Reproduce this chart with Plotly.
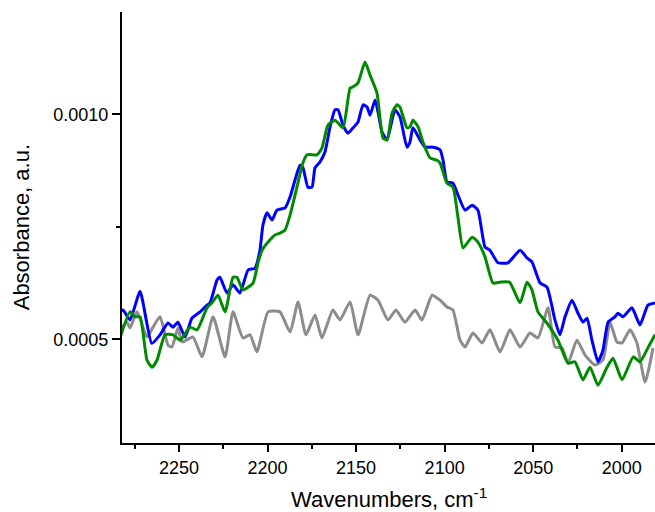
import plotly.graph_objects as go

# ---- data (wavenumber in cm-1, absorbance in a.u.) ----
blue_x = [2283.3, 2281.6, 2277.7, 2272.0, 2265.4, 2260.7, 2256.2, 2253.4, 2250.6, 2246.6,
          2242.7, 2238.1, 2234.2, 2232.5, 2228.5, 2226.9, 2222.9, 2219.5, 2215.6, 2211.0,
          2207.1, 2204.3, 2202.6, 2200.3, 2197.5, 2194.7, 2190.1, 2187.3, 2184.5, 2181.7,
          2180.0, 2177.2, 2174.9, 2173.2, 2170.4, 2167.6, 2164.7, 2161.9, 2160.2, 2157.4,
          2154.6, 2151.7, 2148.9, 2146.1, 2143.8, 2142.1, 2139.3, 2137.6, 2135.4, 2132.5,
          2129.7, 2128.0, 2125.2, 2121.3, 2119.6, 2117.9, 2113.9, 2111.1, 2106.6, 2102.6,
          2100.9, 2098.7, 2095.3, 2092.5, 2088.5, 2084.5, 2081.2, 2077.2, 2074.4, 2069.9,
          2064.2, 2057.4, 2053.5, 2050.7, 2046.1, 2042.2, 2037.7, 2034.9, 2032.0, 2028.1,
          2024.7, 2021.9, 2019.6, 2016.8, 2013.4, 2010.6, 2007.7, 2003.8, 2002.1, 1999.3,
          1994.2, 1989.7, 1985.2, 1981.2]
blue_y = [5.61, 5.65, 5.43, 6.06, 4.91, 5.10, 5.36, 5.27, 5.38, 5.05,
          5.47, 5.61, 5.76, 5.81, 6.32, 6.38, 6.03, 6.21, 6.03, 6.54,
          6.58, 6.98, 7.54, 7.81, 7.65, 7.87, 7.92, 8.16, 8.54, 8.87,
          8.81, 8.38, 8.38, 8.81, 8.94, 9.16, 9.72, 10.10, 10.10, 9.76,
          9.58, 9.70, 9.83, 10.21, 10.16, 9.98, 10.32, 10.05, 9.61, 9.43,
          9.87, 10.10, 9.94, 9.27, 9.38, 9.70, 9.43, 9.27, 9.27, 9.21,
          8.98, 8.50, 8.47, 8.21, 7.87, 7.98, 7.87, 7.05, 6.98, 6.70,
          6.70, 6.98, 6.81, 6.72, 6.25, 6.16, 5.43, 5.10, 5.50, 5.87,
          5.58, 5.38, 5.47, 4.98, 4.50, 4.76, 5.38, 5.50, 5.58, 5.50,
          5.70, 5.32, 5.76, 5.81]

green_x = [2283.3, 2277.7, 2274.9, 2272.0, 2268.1, 2265.2, 2262.4, 2257.9, 2253.4, 2249.4,
           2243.8, 2239.8, 2234.2, 2231.4, 2228.0, 2224.0, 2219.5, 2217.3, 2213.9, 2208.2,
           2205.4, 2203.1, 2198.6, 2195.8, 2193.0, 2190.1, 2187.3, 2183.4, 2180.5, 2177.7,
           2172.1, 2169.3, 2165.9, 2161.9, 2157.4, 2153.4, 2151.7, 2148.9, 2145.0, 2142.1,
           2138.2, 2134.8, 2132.5, 2129.7, 2126.9, 2125.2, 2121.3, 2119.6, 2117.9, 2115.0,
           2112.2, 2108.3, 2104.3, 2102.6, 2098.7, 2095.3, 2092.5, 2089.6, 2084.5, 2081.2,
           2077.2, 2072.7, 2068.7, 2063.3, 2057.4, 2053.5, 2050.7, 2047.3, 2042.2, 2036.0,
           2030.3, 2026.4, 2021.9, 2017.9, 2013.4, 2008.3, 2004.9, 1999.8, 1993.5, 1989.7,
           1985.2, 1981.2]
green_y = [5.03, 5.61, 5.50, 5.50, 4.54, 4.38, 4.54, 5.10, 5.10, 4.98,
           5.27, 5.21, 5.70, 5.81, 5.98, 5.61, 6.38, 6.38, 6.10, 6.25,
           6.70, 6.98, 7.21, 7.32, 7.36, 7.43, 7.76, 8.38, 8.87, 9.10,
           9.10, 9.25, 9.76, 9.87, 9.70, 10.58, 10.61, 10.70, 11.16, 10.87,
           10.47, 9.47, 9.43, 10.03, 10.21, 10.16, 9.70, 9.72, 9.87, 9.72,
           9.38, 9.03, 8.98, 8.92, 8.47, 8.38, 7.72, 7.03, 7.27, 7.16,
           6.83, 6.25, 6.27, 6.27, 5.81, 6.27, 6.10, 5.61, 5.36, 4.98,
           4.47, 4.50, 4.10, 4.38, 3.98, 4.38, 4.58, 4.10, 4.61, 4.50,
           4.81, 5.10]

gray_x = [2283.3, 2279.4, 2277.7, 2273.7, 2268.1, 2264.7, 2260.7, 2256.2, 2254.0, 2250.6,
          2248.3, 2242.1, 2237.0, 2230.8, 2224.0, 2219.5, 2213.9, 2209.9, 2206.0, 2199.7,
          2193.0, 2187.3, 2182.8, 2178.3, 2173.2, 2169.3, 2163.1, 2159.1, 2153.4, 2148.9,
          2142.1, 2137.6, 2132.0, 2127.5, 2122.4, 2116.7, 2112.8, 2107.1, 2102.6, 2098.7,
          2095.3, 2091.3, 2088.5, 2084.0, 2078.9, 2074.4, 2068.7, 2063.1, 2057.4, 2051.8,
          2047.3, 2041.6, 2037.7, 2033.7, 2030.3, 2025.3, 2020.7, 2015.1, 2010.6, 2006.6,
          2002.7, 1999.8, 1995.3, 1991.4, 1986.8, 1982.3]
gray_y = [5.21, 5.38, 5.25, 5.61, 5.05, 5.27, 5.50, 4.87, 4.83, 5.25,
          4.94, 5.05, 4.61, 5.50, 4.61, 5.61, 5.03, 5.10, 4.72, 5.61,
          5.61, 5.16, 5.83, 5.10, 5.54, 5.03, 5.65, 5.43, 5.83, 5.10,
          5.98, 5.87, 5.43, 5.65, 5.38, 5.65, 5.43, 5.98, 5.87, 5.72,
          5.65, 4.98, 4.83, 5.14, 4.92, 5.21, 4.72, 5.21, 4.83, 5.14,
          5.03, 5.70, 4.83, 4.81, 4.47, 4.98, 4.65, 4.43, 4.54, 5.38,
          4.94, 4.92, 5.21, 4.92, 4.05, 4.81]

SCALE = 1e-4
x_ticks = [2250, 2200, 2150, 2100, 2050, 2000]
y_ticks = [0.0005, 0.0010]

FONT = "Liberation Sans, Arial, sans-serif"

fig = go.Figure()
for xs, ys, col in [(gray_x, gray_y, "#8c8c8c"),
                    (blue_x, blue_y, "#0000ff"),
                    (green_x, green_y, "#008a00")]:
    fig.add_trace(go.Scatter(x=xs, y=[v * SCALE for v in ys], mode="lines",
                             line=dict(color=col, width=3, shape="spline", smoothing=0.5),
                             showlegend=False, hoverinfo="skip"))

fig.update_layout(
    width=655, height=512,
    margin=dict(l=122, r=0, t=12, b=69),
    paper_bgcolor="white", plot_bgcolor="white",
    font=dict(family=FONT, size=18, color="black"),
    xaxis=dict(range=[2282.2, 1981.2], tickmode="array", tickvals=x_ticks,
               ticktext=[str(v) for v in x_ticks],
               showgrid=False, zeroline=False, showline=True, linecolor="black",
               linewidth=2, ticks="outside", ticklen=7, tickwidth=1.5, tickcolor="black",
               minor=dict(tickvals=[2275, 2225, 2175, 2125, 2075, 2025], ticks="outside",
                          ticklen=4, tickwidth=1.5, tickcolor="black"),
               tickfont=dict(size=18)),
    yaxis=dict(range=[0.0002696, 0.0012273], tickmode="array", tickvals=y_ticks,
               ticktext=["%.4f" % v for v in y_ticks],
               showgrid=False, zeroline=False, showline=True, linecolor="black",
               linewidth=2, ticks="outside", ticklen=8, tickwidth=1.5, tickcolor="black",
               minor=dict(tickvals=[0.00075], ticks="outside", ticklen=4,
                          tickwidth=1.5, tickcolor="black"),
               tickfont=dict(size=18)),
    annotations=[
        dict(text="Wavenumbers, cm<sup>-1</sup>", xref="paper", yref="paper",
             x=0.5, y=-0.127, xanchor="center", yanchor="middle", showarrow=False,
             font=dict(size=22)),
        dict(text="Absorbance, a.u.", xref="paper", yref="paper", textangle=-90,
             x=-0.188, y=0.5, xanchor="center", yanchor="middle", showarrow=False,
             font=dict(size=22)),
    ],
)

fig.write_html("out.html")
